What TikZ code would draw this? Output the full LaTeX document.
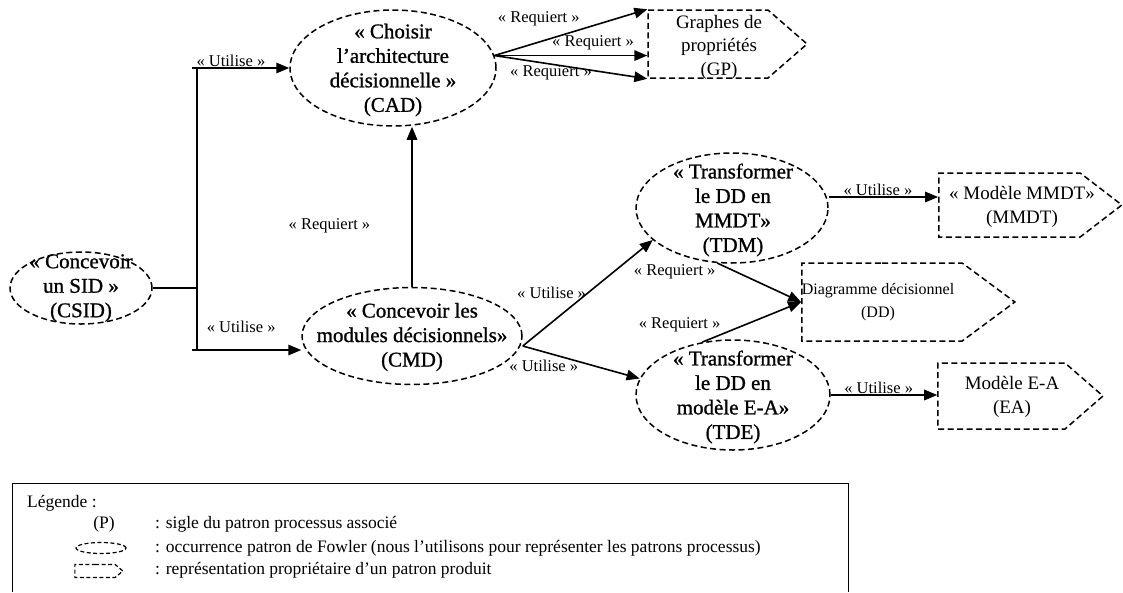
\documentclass[tikz,border=0pt]{standalone}
\usepackage{fontspec}
\setmainfont{Liberation Serif}
\newfontfamily\procfont[FakeBold=1]{Liberation Serif}
\usetikzlibrary{shapes.geometric,shapes.symbols,arrows.meta}

\begin{document}
\begin{tikzpicture}[
    x=1pt, y={(0pt,-1pt)},
    proc/.style={ellipse, draw, dash pattern=on 6pt off 3.5pt, line width=1.5pt, inner sep=0pt},
    prod/.style={signal, signal to=east, draw, dash pattern=on 6pt off 3.5pt, line width=1.5pt, inner sep=0pt},
    etxt/.style={align=center, font=\procfont\fontsize{21}{24.5}\selectfont},
    ptxt/.style={align=center, font=\fontsize{19}{23.5}\selectfont},
    lbl/.style={font=\fontsize{16.5}{18}\selectfont, inner sep=1pt},
    arr/.style={-{Triangle[length=13pt, width=10.5pt]}, line width=1.6pt},
    link/.style={line width=1.3pt},
    legtxt/.style={anchor=west, inner sep=0pt, font=\fontsize{17.5}{19}\selectfont}
    ]
    \useasboundingbox (0,0) rectangle (1123,592);

    % patrons processus
    \node[proc, minimum width=142, minimum height=72] (CSID) at (81,288) {};
    \node[etxt] (CSIDt) at (CSID) {« Concevoir\\un SID »\\(CSID)};
    \node[proc, minimum width=206, minimum height=116] (CAD) at (393,68) {};
    \node[etxt] (CADt) at (393,70) {« Choisir\\l’architecture\\décisionnelle »\\(CAD)};
    \node[proc, minimum width=220, minimum height=97] (CMD) at (412,336) {};
    \node[etxt] (CMDt) at (412,337) {« Concevoir les\\modules décisionnels»\\(CMD)};
    \node[proc, minimum width=192, minimum height=110] (TDM) at (732,208) {};
    \node[etxt] (TDMt) at (733,210) {« Transformer\\le DD en\\MMDT»\\(TDM)};
    \node[proc, minimum width=194, minimum height=110] (TDE) at (733,395) {};
    \node[etxt] (TDEt) at (733,397) {« Transformer\\le DD en\\modèle E-A»\\(TDE)};

    % patrons produits
    \node[prod, minimum width=159, minimum height=68, signal pointer angle=82] (GP) at (708,44) {};
    \node[ptxt] (GPt) at (719,47) {Graphes de\\propriétés\\(GP)};
    \node[prod, minimum width=183, minimum height=64, signal pointer angle=75] (MMDT) at (1009.5,205) {};
    \node[ptxt] (MMDTt) at (1022,207) {« Modèle MMDT»\\(MMDT)};
    \node[prod, minimum width=213, minimum height=78, signal pointer angle=73] (DD) at (882,302) {};
    \node[ptxt, font=\fontsize{16}{23}\selectfont] (DDt) at (878,302) {Diagramme décisionnel\\(DD)};
    \node[prod, minimum width=165, minimum height=66, signal pointer angle=82] (EA) at (1001.5,396) {};
    \node[ptxt] (EAt) at (1012,397) {Modèle E-A\\(EA)};

    \coordinate (trunkTop) at (197,68);
    \coordinate (trunkBot) at (197,350);
    \coordinate (cadOut) at (CAD.7);
    \coordinate (cmdOut) at ([yshift=-10pt]CMD.east);
    \coordinate (tdmOut) at ([yshift=11pt]TDM.east);

    \draw[link] (trunkTop) -- (trunkBot);
    \draw[link] (CSID.east) -- (CSID.east -| trunkTop);
    \draw[arr] ([xshift=-5pt]trunkTop) -- (CAD.west)
        node[lbl, pos=.4, above] (uCAD) {« Utilise »};
    \draw[arr] ([xshift=-5pt]trunkBot) -- (trunkBot -| CMD.west)
        node[lbl, pos=.45, above=16pt] (uCMD) {« Utilise »};
    \draw[arr] (CMD.north) -- (CMD.north |- CAD.south)
        node[lbl, pos=.38, left=40pt] (rCAD) {« Requiert »};

    \draw[arr] (cadOut) -- (GP.north west)
        node[lbl, pos=.29, above=14pt] (rGPa) {« Requiert »};
    \draw[arr] (cadOut) -- (cadOut -| GP.west)
        node[lbl, pos=.645, above=4pt] (rGPb) {« Requiert »};
    \draw[arr] (cadOut) -- (GP.south west)
        node[lbl, pos=.37, below] (rGPc) {« Requiert »};

    \draw[arr] (cmdOut) -- (TDM.202)
        node[lbl, pos=.5, left] (uTDM) {« Utilise »};
    \draw[arr] (cmdOut) -- (TDE.170)
        node[lbl, pos=.18, below=6pt] (uTDE) {« Utilise »};
    \draw[arr] (TDM.255) -- (DD.west)
        node[lbl, pos=0, below left=0pt] (rDDa) {« Requiert »};
    \draw[arr] (TDE.120) -- (DD.west)
        node[lbl, pos=.2, above left=0pt] (rDDb) {« Requiert »};
    \draw[arr] (tdmOut) -- (tdmOut -| MMDT.west)
        node[lbl, pos=.45, above] (uMMDT) {« Utilise »};
    \draw[arr] (TDE.east) -- (TDE.east -| EA.west)
        node[lbl, pos=.45, above] (uEA) {« Utilise »};

    % legende
    \draw[line width=0.8pt] (12,592) -- (12,483) -- (848,483) -- (848,592);
    \node[legtxt] (legT) at (27,503) {Légende :};
    \node[font=\fontsize{17.5}{19}\selectfont, inner sep=0pt] (legP) at (104,524) {(P)};
    \node[legtxt] (legPt) at (155,524) {: sigle du patron processus associé};
    \node[proc, minimum width=50, minimum height=11, line width=1.2pt, dash pattern=on 4pt off 2.5pt] (legE) at (101,548) {};
    \node[legtxt] (legEt) at (155,548) {: occurrence patron de Fowler (nous l’utilisons pour représenter les patrons processus)};
    \node[prod, minimum width=48, minimum height=13, signal pointer angle=80, line width=1.2pt, dash pattern=on 4pt off 2.5pt] (legS) at (95,571) {};
    \node[legtxt] (legSt) at (155,570) {: représentation propriétaire d’un patron produit};

\end{tikzpicture}
\end{document}
